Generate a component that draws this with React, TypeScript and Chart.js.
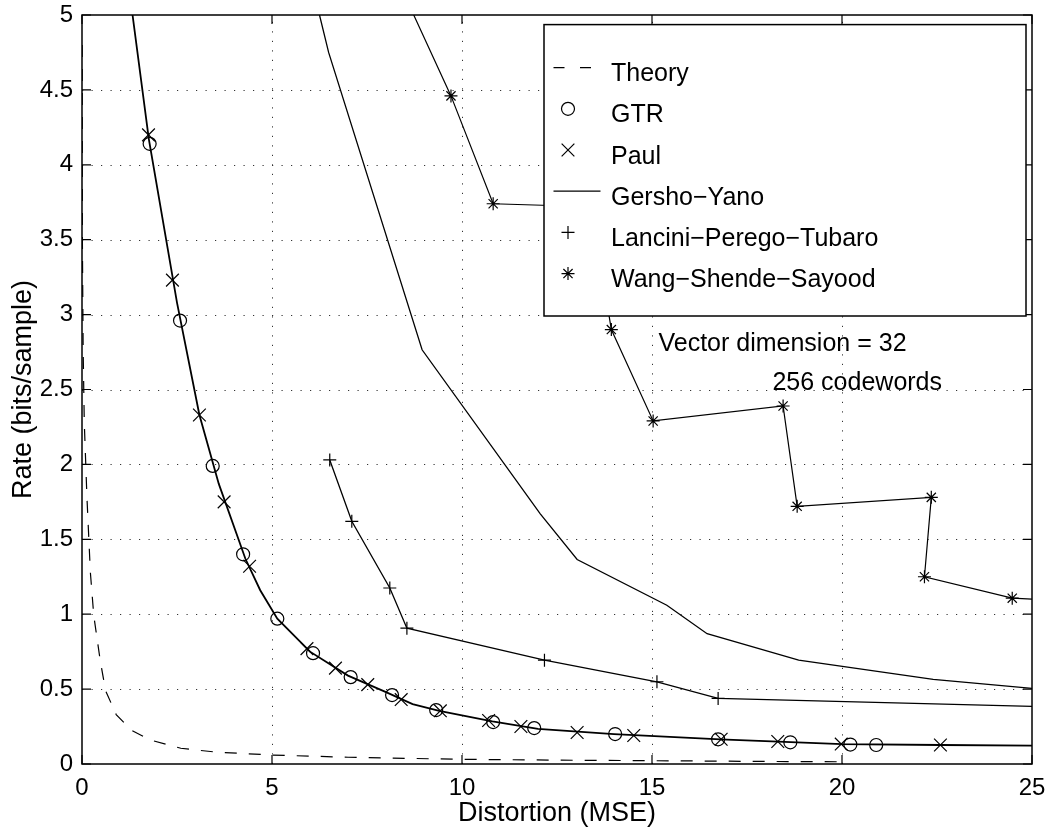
import React, { useEffect, useRef } from "react";
import { Chart, registerables } from "chart.js";
import { drawPoint } from "chart.js/helpers";

Chart.register(...registerables);

const FONT = '"Liberation Sans", Arial, Helvetica, sans-serif';

// ---------- data ----------
const xTickValues = [0, 5, 10, 15, 20, 25];
const yTickValues = [0, 0.5, 1, 1.5, 2, 2.5, 3, 3.5, 4, 4.5, 5];

const theoryX = [0.005, 0.01, 0.03, 0.06, 0.13, 0.22, 0.31, 0.48, 0.62, 0.9, 1.3, 1.8, 2.6, 3.5, 5, 7, 10, 13, 15, 18, 20];
const theoryY = [4.8, 3.5, 2.77, 2.28, 1.78, 1.28, 0.99, 0.69, 0.49, 0.33, 0.225, 0.16, 0.105, 0.08, 0.06, 0.045, 0.031, 0.025, 0.022, 0.017, 0.015];

const gtrX = [1.78, 2.58, 3.44, 4.24, 5.14, 6.08, 7.07, 8.16, 9.32, 10.82, 11.9, 14.03, 16.74, 18.64, 20.22, 20.9];
const gtrY = [4.14, 2.96, 1.99, 1.4, 0.97, 0.74, 0.58, 0.46, 0.36, 0.28, 0.24, 0.2, 0.165, 0.145, 0.13, 0.127];

const paulX = [1.75, 2.38, 3.09, 3.74, 4.41, 5.92, 6.67, 7.52, 8.4, 9.43, 10.7, 11.55, 13.03, 14.52, 16.82, 18.31, 19.98, 22.59];
const paulY = [4.2, 3.23, 2.33, 1.75, 1.32, 0.77, 0.64, 0.53, 0.43, 0.355, 0.29, 0.25, 0.21, 0.19, 0.165, 0.15, 0.133, 0.127];

const curveX = [1.33, 1.76, 2.5, 3.09, 3.6, 4.3, 4.69, 5.14, 6.0, 7.0, 8.0, 8.7, 9.4, 10.8, 12.0, 14.0, 16.8, 20.0, 22.6, 25];
const curveY = [5.0, 4.17, 3.08, 2.33, 1.87, 1.37, 1.16, 0.97, 0.75, 0.59, 0.48, 0.4, 0.355, 0.285, 0.235, 0.2, 0.165, 0.133, 0.127, 0.122];

const gershoX = [6.25, 6.49, 8.95, 12.06, 13.03, 15.39, 16.45, 18.86, 22.4, 25];
const gershoY = [5.0, 4.75, 2.765, 1.67, 1.365, 1.06, 0.87, 0.693, 0.565, 0.505];

const lanciniX = [6.52, 7.1, 8.1, 8.55, 12.17, 15.13, 16.74, 25];
const lanciniY = [2.03, 1.62, 1.175, 0.907, 0.693, 0.549, 0.438, 0.385];

const wssX = [8.73, 9.71, 10.82, 13.4, 13.93, 15.03, 18.45, 18.82, 22.35, 22.17, 24.48, 25];
const wssY = [5.0, 4.46, 3.74, 3.72, 2.9, 2.29, 2.39, 1.72, 1.78, 1.25, 1.107, 1.1];

const notes = [
  { text: "Vector dimension = 32", x: 15.17, y: 2.757 },
  { text: "256 codewords", x: 18.17, y: 2.498 },
];

const X_MIN = 0, X_MAX = 25, Y_MIN = 0, Y_MAX = 5;

const zip = (xs: number[], ys: number[]) => xs.map((x, i) => ({ x, y: ys[i] }));
const radii = (xs: number[], ys: number[], r: number) =>
  xs.map((x, i) => (x >= X_MAX || ys[i] >= Y_MAX ? 0 : r));

type LegendEntry = { label: string; kind: "dash" | "line" | "point"; style?: string; radius?: number };
const legendEntries: LegendEntry[] = [
  { label: "Theory", kind: "dash" },
  { label: "GTR", kind: "point", style: "circle", radius: 6.5 },
  { label: "Paul", kind: "point", style: "crossRot", radius: 9 },
  { label: "Gersho\u2212Yano", kind: "line" },
  { label: "Lancini\u2212Perego\u2212Tubaro", kind: "point", style: "cross", radius: 6.5 },
  { label: "Wang\u2212Shende\u2212Sayood", kind: "point", style: "star", radius: 6.5 },
];

const zeroPad = (s: any) => {
  s.paddingTop = 0;
  s.paddingBottom = 0;
  s.paddingLeft = 0;
  s.paddingRight = 0;
};

const framePlugin = {
  id: "matlabFrame",
  beforeDatasetsDraw(chart: any) {
    const { ctx, chartArea: ca, scales } = chart;
    const xs = scales.x, ys = scales.y;
    ctx.save();
    ctx.strokeStyle = "#333";
    ctx.lineWidth = 1;
    ctx.setLineDash([1.2, 8.3]);
    xTickValues.forEach((v) => {
      if (v <= X_MIN || v >= X_MAX) return;
      const px = Math.round(xs.getPixelForValue(v)) + 0.5;
      ctx.beginPath();
      ctx.moveTo(px, ca.bottom);
      ctx.lineTo(px, ca.top);
      ctx.stroke();
    });
    yTickValues.forEach((v) => {
      if (v <= Y_MIN || v >= Y_MAX) return;
      const py = Math.round(ys.getPixelForValue(v)) + 0.5;
      ctx.beginPath();
      ctx.moveTo(ca.left, py);
      ctx.lineTo(ca.right, py);
      ctx.stroke();
    });
    ctx.restore();
  },
  afterDatasetsDraw(chart: any) {
    const { ctx, chartArea: ca, scales } = chart;
    const xs = scales.x, ys = scales.y;
    ctx.save();
    ctx.setLineDash([]);
    ctx.strokeStyle = "#000";
    ctx.lineWidth = 1.5;
    ctx.strokeRect(ca.left, ca.top, ca.right - ca.left, ca.bottom - ca.top);
    const TL = 9;
    ctx.lineWidth = 1.2;
    ctx.beginPath();
    xTickValues.forEach((v) => {
      const px = xs.getPixelForValue(v);
      ctx.moveTo(px, ca.bottom);
      ctx.lineTo(px, ca.bottom - TL);
      ctx.moveTo(px, ca.top);
      ctx.lineTo(px, ca.top + TL);
    });
    yTickValues.forEach((v) => {
      const py = ys.getPixelForValue(v);
      ctx.moveTo(ca.left, py);
      ctx.lineTo(ca.left + TL, py);
      ctx.moveTo(ca.right, py);
      ctx.lineTo(ca.right - TL, py);
    });
    ctx.stroke();

    // legend box
    const bl = ca.right - 488, br = ca.right - 6, bt = ca.top + 9.6, bb = ca.top + 301;
    ctx.fillStyle = "#fff";
    ctx.fillRect(bl, bt, br - bl, bb - bt);
    ctx.lineWidth = 1.5;
    ctx.strokeStyle = "#000";
    ctx.strokeRect(bl, bt, br - bl, bb - bt);

    ctx.font = `25px ${FONT}`;
    ctx.textAlign = "left";
    ctx.textBaseline = "alphabetic";
    legendEntries.forEach((e, i) => {
      const base = bt + 56.5 + i * 41.2;
      const my = base - 13.5;
      const mx = bl + 24;
      ctx.fillStyle = "#000";
      ctx.fillText(e.label, bl + 67, base);
      ctx.strokeStyle = "#000";
      if (e.kind === "dash") {
        ctx.lineWidth = 1.2;
        ctx.setLineDash([11, 15.5]);
        ctx.beginPath();
        ctx.moveTo(bl + 9.5, my);
        ctx.lineTo(bl + 48.5, my);
        ctx.stroke();
        ctx.setLineDash([]);
      } else if (e.kind === "line") {
        ctx.lineWidth = 1.2;
        ctx.beginPath();
        ctx.moveTo(bl + 9.5, my);
        ctx.lineTo(bl + 56.5, my);
        ctx.stroke();
      } else {
        ctx.lineWidth = 1.2;
        ctx.fillStyle = "rgba(0,0,0,0)";
        drawPoint(ctx, { pointStyle: e.style as any, radius: e.radius as number, rotation: 0, borderWidth: 1.2 }, mx, my);
      }
    });

    // annotations
    ctx.fillStyle = "#000";
    ctx.font = `25px ${FONT}`;
    notes.forEach((n) => {
      ctx.fillText(n.text, xs.getPixelForValue(n.x), ys.getPixelForValue(n.y));
    });
    ctx.restore();
  },
};

export default function App() {
  const ref = useRef<HTMLCanvasElement | null>(null);
  useEffect(() => {
    document.body.style.margin = "0";
    const canvas = ref.current;
    if (!canvas) return;
    const black = "#000";
    const chart = new Chart(canvas, {
      type: "scatter",
      data: {
        datasets: [
          {
            label: "Theory",
            data: zip(theoryX, theoryY),
            showLine: true,
            borderColor: black,
            borderWidth: 1.2,
            borderDash: [12, 12],
            pointRadius: 0,
            fill: false,
          },
          {
            label: "GTR/Paul curve",
            data: zip(curveX, curveY),
            showLine: true,
            borderColor: black,
            borderWidth: 1.8,
            pointRadius: 0,
            fill: false,
          },
          {
            label: "GTR",
            data: zip(gtrX, gtrY),
            showLine: false,
            pointStyle: "circle",
            pointRadius: 6.5,
            pointBorderWidth: 1.2,
            pointBorderColor: black,
            pointBackgroundColor: "rgba(0,0,0,0)",
          },
          {
            label: "Paul",
            data: zip(paulX, paulY),
            showLine: false,
            pointStyle: "crossRot",
            pointRadius: 9,
            pointBorderWidth: 1.2,
            pointBorderColor: black,
            pointBackgroundColor: "rgba(0,0,0,0)",
          },
          {
            label: "Gersho\u2212Yano",
            data: zip(gershoX, gershoY),
            showLine: true,
            borderColor: black,
            borderWidth: 1.3,
            pointRadius: 0,
            fill: false,
          },
          {
            label: "Lancini\u2212Perego\u2212Tubaro",
            data: zip(lanciniX, lanciniY),
            showLine: true,
            borderColor: black,
            borderWidth: 1.3,
            pointStyle: "cross",
            pointRadius: radii(lanciniX, lanciniY, 6.5),
            pointBorderWidth: 1.2,
            pointBorderColor: black,
            pointBackgroundColor: "rgba(0,0,0,0)",
            fill: false,
          },
          {
            label: "Wang\u2212Shende\u2212Sayood",
            data: zip(wssX, wssY),
            showLine: true,
            borderColor: black,
            borderWidth: 1.2,
            pointStyle: "star",
            pointRadius: radii(wssX, wssY, 6.5),
            pointBorderWidth: 1.2,
            pointBorderColor: black,
            pointBackgroundColor: "rgba(0,0,0,0)",
            fill: false,
          },
        ],
      },
      options: {
        animation: false,
        responsive: false,
        devicePixelRatio: 1,
        events: [],
        layout: { padding: { top: 15, right: 20, left: 0, bottom: 0 } },
        plugins: { legend: { display: false }, tooltip: { enabled: false } },
        elements: { line: { tension: 0 } },
        scales: {
          x: {
            type: "linear",
            min: X_MIN,
            max: X_MAX,
            afterBuildTicks: (s: any) => {
              s.ticks = xTickValues.map((v) => ({ value: v }));
            },
            afterFit: (s: any) => {
              s.height = 68;
              zeroPad(s);
            },
            ticks: {
              callback: (v: any) => String(v),
              font: { family: FONT, size: 24 },
              color: black,
              padding: 10,
              maxRotation: 0,
              autoSkip: false,
            },
            grid: { display: false, drawTicks: false },
            border: { display: false },
            title: {
              display: true,
              text: "Distortion (MSE)",
              font: { family: FONT, size: 27 },
              color: black,
              padding: { top: 0, bottom: 2 },
            },
          },
          y: {
            type: "linear",
            min: Y_MIN,
            max: Y_MAX,
            afterBuildTicks: (s: any) => {
              s.ticks = yTickValues.map((v) => ({ value: v }));
            },
            afterFit: (s: any) => {
              s.width = 82;
              zeroPad(s);
            },
            ticks: {
              callback: (v: any) => String(v),
              font: { family: FONT, size: 24 },
              color: black,
              padding: 9,
              autoSkip: false,
            },
            grid: { display: false, drawTicks: false },
            border: { display: false },
            title: {
              display: true,
              text: "Rate (bits/sample)",
              font: { family: FONT, size: 27 },
              color: black,
              padding: { top: 7, bottom: 0 },
            },
          },
        },
      },
      plugins: [framePlugin],
    } as any);
    return () => chart.destroy();
  }, []);
  return <canvas ref={ref} width={1052} height={832} style={{ display: "block", width: 1052, height: 832 }} />;
}
